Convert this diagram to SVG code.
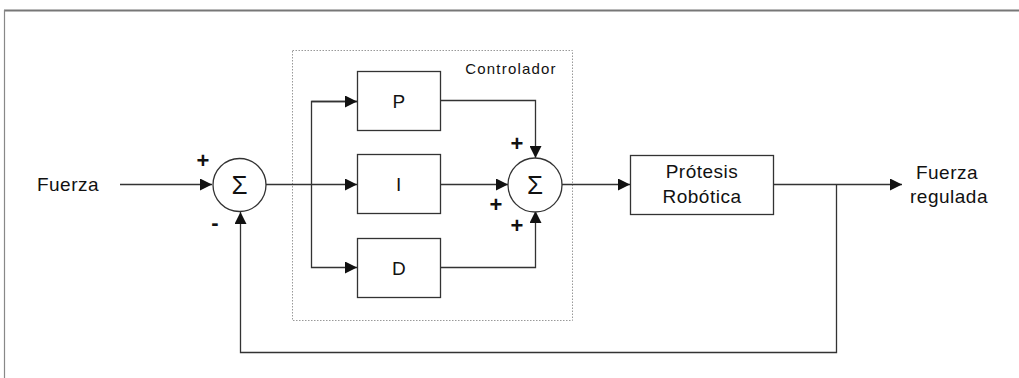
<svg xmlns="http://www.w3.org/2000/svg" width="1019" height="378" viewBox="0 0 1019 378">
<style>
.ln{fill:none;stroke:#333;stroke-width:1.3}
.box{fill:#fff;stroke:#333;stroke-width:1.3}
.t{font-family:"Liberation Sans",Arial,sans-serif;fill:#111;font-size:19px;letter-spacing:0.5px}
.s{font-size:26px;letter-spacing:0}
.p{font-size:22px;font-weight:bold;letter-spacing:0}
</style>
<defs>
<marker id="ah" viewBox="0 0 10 10" refX="10" refY="5" markerWidth="12" markerHeight="12" markerUnits="userSpaceOnUse" orient="auto">
<path d="M0,0 L10,5 L0,10 z" fill="#111"/>
</marker>
</defs>
<rect width="1019" height="378" fill="#fff"/>
<g id="frame">
<line x1="4" y1="10.5" x2="1019" y2="10.5" stroke="#777" stroke-width="2"/>
<line x1="4.5" y1="10" x2="4.5" y2="378" stroke="#888" stroke-width="1.2"/>
</g>
<g id="controlador">
<rect x="292.5" y="50.5" width="280" height="270" fill="none" stroke="#999" stroke-width="1" stroke-dasharray="1.5,1.5"/>
<text class="t" x="511" y="74" style="font-size:15px;letter-spacing:1.2px" text-anchor="middle">Controlador</text>
</g>
<g id="connectors">
<line class="ln" x1="120" y1="184.5" x2="212" y2="184.5" marker-end="url(#ah)"/>
<line class="ln" x1="266" y1="184.5" x2="357" y2="184.5" marker-end="url(#ah)"/>
<polyline class="ln" points="357,101.5 311.5,101.5 311.5,267.5 357,267.5" marker-end="url(#ah)"/>
<line class="ln" x1="311.5" y1="101.5" x2="357" y2="101.5" marker-end="url(#ah)"/>
<polyline class="ln" points="440,100.5 535.5,100.5 535.5,158" marker-end="url(#ah)"/>
<line class="ln" x1="440" y1="184.5" x2="508" y2="184.5" marker-end="url(#ah)"/>
<polyline class="ln" points="440,267.5 535.5,267.5 535.5,211" marker-end="url(#ah)"/>
<line class="ln" x1="562" y1="184.5" x2="630" y2="184.5" marker-end="url(#ah)"/>
<line class="ln" x1="773" y1="184.5" x2="902" y2="184.5" marker-end="url(#ah)"/>
<polyline class="ln" points="836.5,184.5 836.5,352.5 240.5,352.5 240.5,212" marker-end="url(#ah)"/>
</g>
<g id="fuerza">
<text class="t" x="68" y="191" text-anchor="middle">Fuerza</text>
</g>
<g id="sum1">
<circle class="box" cx="239.5" cy="185" r="26.5"/>
<text class="t s" x="239.5" y="194" text-anchor="middle">Σ</text>
<text class="t p" x="203" y="168" text-anchor="middle">+</text>
<text class="t p" x="215" y="230" text-anchor="middle">-</text>
</g>
<g id="P">
<rect class="box" x="357.5" y="71.5" width="83" height="59"/>
<text class="t" x="399" y="108" text-anchor="middle">P</text>
</g>
<g id="I">
<rect class="box" x="357.5" y="154.5" width="83" height="59"/>
<text class="t" x="399" y="191" text-anchor="middle">I</text>
</g>
<g id="D">
<rect class="box" x="357.5" y="238.5" width="83" height="59"/>
<text class="t" x="399" y="275" text-anchor="middle">D</text>
</g>
<g id="sum2">
<circle class="box" cx="535" cy="185" r="27"/>
<text class="t s" x="535" y="194" text-anchor="middle">Σ</text>
<text class="t p" x="517" y="151" text-anchor="middle">+</text>
<text class="t p" x="496" y="212" text-anchor="middle">+</text>
<text class="t p" x="517" y="233" text-anchor="middle">+</text>
</g>
<g id="protesis">
<rect class="box" x="630.5" y="155.5" width="143" height="59"/>
<text class="t" x="702" y="178" text-anchor="middle">Prótesis</text>
<text class="t" x="702" y="203" text-anchor="middle">Robótica</text>
</g>
<g id="salida">
<text class="t" x="947" y="179" text-anchor="middle">Fuerza</text>
<text class="t" x="949" y="203" text-anchor="middle">regulada</text>
</g>
</svg>
